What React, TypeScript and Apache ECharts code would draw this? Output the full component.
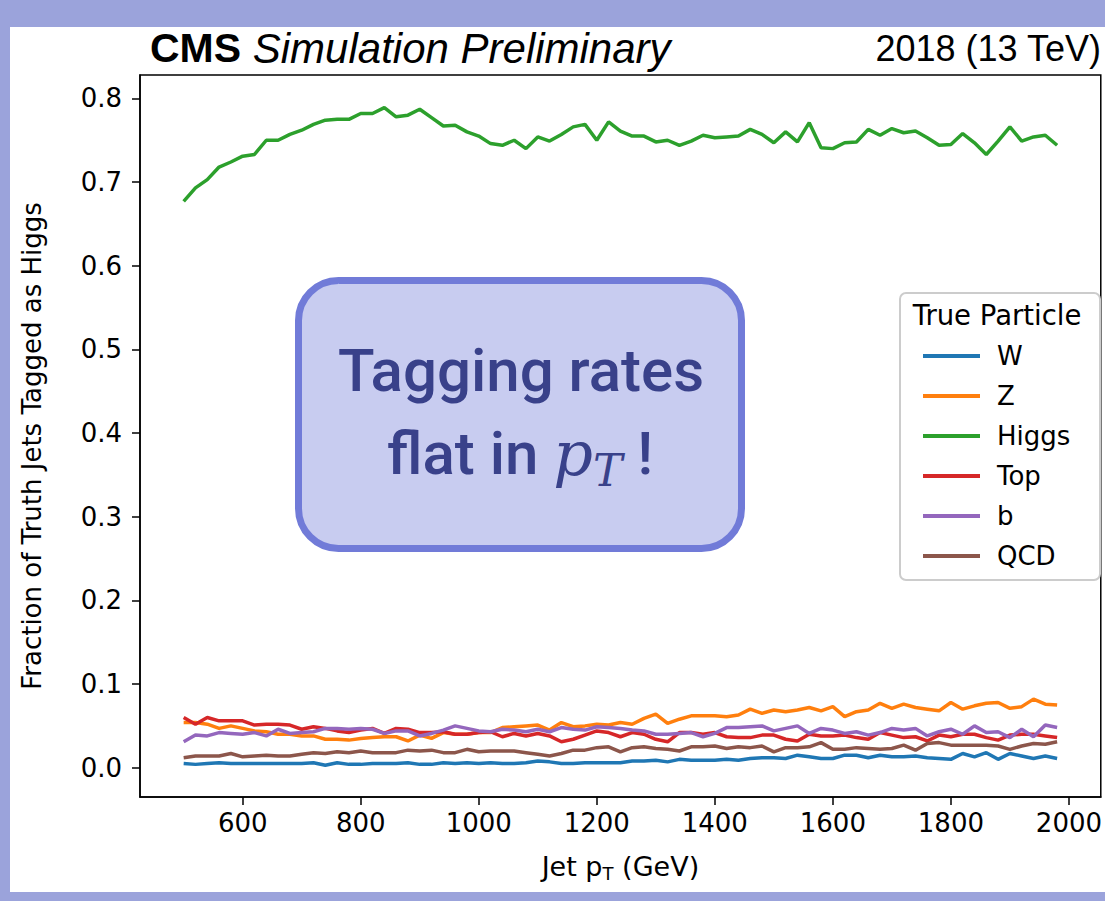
import React, { useEffect, useRef } from 'react';
import * as echarts from 'echarts';

const pt: number[] = [
  500, 520, 540, 560, 580, 600, 620, 640, 660, 680, 700, 720, 740, 760, 780,
  800, 820, 840, 860, 880, 900, 920, 940, 960, 980, 1000, 1020, 1040, 1060, 1080,
  1100, 1120, 1140, 1160, 1180, 1200, 1220, 1240, 1260, 1280, 1300, 1320, 1340, 1360, 1380,
  1400, 1420, 1440, 1460, 1480, 1500, 1520, 1540, 1560, 1580, 1600, 1620, 1640, 1660, 1680,
  1700, 1720, 1740, 1760, 1780, 1800, 1820, 1840, 1860, 1880, 1900, 1920, 1940, 1960, 1980,
];

const wRate: number[] = [
  0.005, 0.004, 0.005, 0.006, 0.005, 0.005, 0.005, 0.005, 0.005, 0.005, 0.005, 0.006, 0.003, 0.006, 0.004,
  0.004, 0.005, 0.005, 0.005, 0.006, 0.004, 0.004, 0.006, 0.005, 0.006, 0.005, 0.006, 0.005, 0.005, 0.006,
  0.008, 0.007, 0.005, 0.005, 0.006, 0.006, 0.006, 0.006, 0.008, 0.008, 0.009, 0.007, 0.010, 0.009, 0.009,
  0.009, 0.010, 0.009, 0.011, 0.012, 0.012, 0.011, 0.015, 0.013, 0.011, 0.011, 0.015, 0.015, 0.012, 0.015,
  0.013, 0.013, 0.014, 0.012, 0.011, 0.010, 0.017, 0.013, 0.018, 0.010, 0.017, 0.014, 0.011, 0.014, 0.011,
];

const zRate: number[] = [
  0.054, 0.054, 0.052, 0.047, 0.050, 0.047, 0.044, 0.043, 0.040, 0.040, 0.038, 0.038, 0.034, 0.034, 0.033,
  0.035, 0.036, 0.037, 0.037, 0.032, 0.039, 0.035, 0.042, 0.040, 0.040, 0.042, 0.042, 0.048, 0.049, 0.050,
  0.051, 0.045, 0.054, 0.049, 0.050, 0.052, 0.051, 0.054, 0.052, 0.059, 0.064, 0.053, 0.058, 0.062, 0.062,
  0.062, 0.061, 0.063, 0.070, 0.065, 0.069, 0.067, 0.069, 0.072, 0.068, 0.073, 0.061, 0.067, 0.069, 0.077,
  0.071, 0.076, 0.072, 0.070, 0.068, 0.078, 0.070, 0.074, 0.077, 0.078, 0.071, 0.073, 0.082, 0.076, 0.075,
];

const higgsRate: number[] = [
  0.677, 0.693, 0.703, 0.718, 0.724, 0.731, 0.733, 0.750, 0.750, 0.757, 0.762, 0.769, 0.774, 0.775, 0.775,
  0.782, 0.782, 0.789, 0.778, 0.780, 0.787, 0.777, 0.767, 0.768, 0.760, 0.755, 0.746, 0.744, 0.750, 0.740,
  0.754, 0.749, 0.757, 0.766, 0.769, 0.750, 0.772, 0.761, 0.755, 0.755, 0.748, 0.750, 0.744, 0.749, 0.756,
  0.753, 0.754, 0.755, 0.763, 0.757, 0.747, 0.760, 0.748, 0.771, 0.741, 0.740, 0.747, 0.748, 0.763, 0.756,
  0.764, 0.759, 0.761, 0.753, 0.744, 0.745, 0.758, 0.747, 0.733, 0.749, 0.766, 0.749, 0.754, 0.756, 0.744,
];

const topRate: number[] = [
  0.060, 0.052, 0.060, 0.056, 0.056, 0.056, 0.051, 0.052, 0.052, 0.051, 0.046, 0.049, 0.047, 0.044, 0.042,
  0.045, 0.047, 0.041, 0.047, 0.046, 0.042, 0.042, 0.043, 0.040, 0.040, 0.042, 0.043, 0.037, 0.041, 0.038,
  0.041, 0.038, 0.031, 0.034, 0.039, 0.044, 0.042, 0.037, 0.042, 0.040, 0.034, 0.031, 0.042, 0.042, 0.040,
  0.042, 0.037, 0.036, 0.036, 0.039, 0.039, 0.034, 0.032, 0.040, 0.038, 0.038, 0.039, 0.036, 0.034, 0.042,
  0.039, 0.036, 0.037, 0.032, 0.039, 0.037, 0.040, 0.040, 0.036, 0.033, 0.039, 0.040, 0.040, 0.038, 0.036,
];

const bRate: number[] = [
  0.031, 0.039, 0.038, 0.042, 0.041, 0.040, 0.042, 0.038, 0.046, 0.041, 0.042, 0.043, 0.047, 0.047, 0.046,
  0.047, 0.046, 0.041, 0.044, 0.044, 0.038, 0.041, 0.045, 0.050, 0.047, 0.044, 0.043, 0.046, 0.045, 0.043,
  0.046, 0.043, 0.048, 0.046, 0.045, 0.049, 0.048, 0.047, 0.045, 0.044, 0.040, 0.040, 0.041, 0.042, 0.037,
  0.041, 0.048, 0.048, 0.049, 0.050, 0.044, 0.047, 0.050, 0.041, 0.047, 0.045, 0.041, 0.043, 0.039, 0.042,
  0.047, 0.045, 0.047, 0.038, 0.043, 0.046, 0.040, 0.050, 0.042, 0.043, 0.036, 0.046, 0.037, 0.051, 0.048,
];

const qcdRate: number[] = [
  0.012, 0.014, 0.014, 0.014, 0.017, 0.013, 0.014, 0.015, 0.014, 0.014, 0.016, 0.018, 0.017, 0.019, 0.018,
  0.020, 0.018, 0.018, 0.018, 0.021, 0.020, 0.021, 0.018, 0.018, 0.022, 0.019, 0.020, 0.020, 0.020, 0.018,
  0.016, 0.014, 0.017, 0.021, 0.021, 0.024, 0.025, 0.019, 0.024, 0.025, 0.023, 0.022, 0.020, 0.025, 0.025,
  0.026, 0.023, 0.025, 0.024, 0.026, 0.019, 0.024, 0.024, 0.025, 0.030, 0.022, 0.022, 0.024, 0.023, 0.022,
  0.023, 0.027, 0.021, 0.029, 0.030, 0.027, 0.027, 0.027, 0.027, 0.026, 0.022, 0.026, 0.029, 0.028, 0.031,
];

const seriesNames: string[] = ['W', 'Z', 'Higgs', 'Top', 'b', 'QCD'];
const seriesColors: string[] = ['#1f77b4', '#ff7f0e', '#2ca02c', '#d62728', '#9467bd', '#8c564b'];
const seriesValues: number[][] = [wRate, zRate, higgsRate, topRate, bRate, qcdRate];

const xTicks: number[] = [600, 800, 1000, 1200, 1400, 1600, 1800, 2000];
const yTicks: number[] = [0.0, 0.1, 0.2, 0.3, 0.4, 0.5, 0.6, 0.7, 0.8];

const TICK_FONT = 'DejaVu Sans';
const FS = 26;

export default function App() {
  const ref = useRef<HTMLDivElement | null>(null);

  useEffect(() => {
    if (!ref.current) return;
    const chart = echarts.init(ref.current, undefined, { renderer: 'svg' });

    const series = seriesNames.map((name, k) => ({
      name,
      type: 'line',
      data: pt.map((x, i) => [x, seriesValues[k][i]]),
      showSymbol: false,
      symbol: 'none',
      lineStyle: { color: seriesColors[k], width: 3.5 },
      itemStyle: { color: seriesColors[k] },
      z: 3 + k,
    }));

    chart.setOption({
      animation: false,
      backgroundColor: '#9ba3db',
      grid: {
        left: 140,
        top: 75,
        width: 967,
        height: 722,
        show: true,
        borderColor: '#000',
        borderWidth: 1.5,
        backgroundColor: 'transparent',
      },
      xAxis: {
        type: 'value',
        min: 426,
        max: 2054,
        axisLine: { show: true, onZero: false, lineStyle: { color: '#000', width: 1.5 } },
        axisTick: { show: true, length: 8, lineStyle: { color: '#000', width: 1.5 }, customValues: xTicks },
        axisLabel: {
          customValues: xTicks,
          fontFamily: TICK_FONT,
          fontSize: FS,
          color: '#000',
          margin: 13,
          formatter: (v: number) => String(v),
        },
        splitLine: { show: false },
        name: '{a|Jet p}{s|T}{a| (GeV)}',
        nameLocation: 'middle',
        nameGap: 53,
        nameTextStyle: {
          rich: {
            a: { fontFamily: TICK_FONT, fontSize: 27, color: '#000' },
            s: { fontFamily: TICK_FONT, fontSize: 18, color: '#000', padding: [14, 0, 0, 0] },
          },
        },
      },
      yAxis: {
        type: 'value',
        min: -0.035,
        max: 0.828,
        axisLine: { show: true, onZero: false, lineStyle: { color: '#000', width: 1.5 } },
        axisTick: { show: true, length: 8, lineStyle: { color: '#000', width: 1.5 }, customValues: yTicks },
        axisLabel: {
          customValues: yTicks,
          fontFamily: TICK_FONT,
          fontSize: FS,
          color: '#000',
          margin: 18,
          formatter: (v: number) => v.toFixed(1),
        },
        splitLine: { show: false },
        name: 'Fraction of Truth Jets Tagged as Higgs',
        nameLocation: 'middle',
        nameRotate: 90,
        nameGap: 95,
        nameTextStyle: { fontFamily: TICK_FONT, fontSize: FS, color: '#000', padding: [0, 20, 0, 0] },
      },
      legend: {
        data: seriesNames,
        orient: 'vertical',
        left: 918,
        top: 338,
        z: 120,
        icon: 'rect',
        itemWidth: 57,
        itemHeight: 4,
        itemGap: 14,
        textStyle: {
          fontFamily: TICK_FONT,
          fontSize: FS,
          color: '#000',
          lineHeight: 26,
          padding: [0, 0, 0, 12],
        },
      },
      graphic: [
        {
          type: 'rect',
          z: -100,
          shape: { x: 10, y: 27, width: 1100, height: 865 },
          style: { fill: '#ffffff' },
          silent: true,
        },
        {
          type: 'text',
          x: 150,
          y: 48,
          style: {
            text: '{b|CMS}{i| Simulation Preliminary}',
            verticalAlign: 'middle',
            align: 'left',
            rich: {
              b: { fontFamily: 'Liberation Sans', fontWeight: 'bold', fontSize: 41, fill: '#000' },
              i: { fontFamily: 'Liberation Sans', fontStyle: 'italic', fontSize: 42, fill: '#000' },
            },
          },
        },
        {
          type: 'text',
          x: 1101,
          y: 48,
          style: {
            text: '2018 (13 TeV)',
            align: 'right',
            verticalAlign: 'middle',
            fontFamily: 'Liberation Sans',
            fontSize: 36,
            fill: '#000',
          },
        },
        {
          type: 'rect',
          z: 50,
          shape: { x: 900, y: 293, width: 200, height: 287, r: 6 },
          style: { fill: '#ffffff', stroke: '#cccccc', lineWidth: 2 },
        },
        {
          type: 'text',
          z: 51,
          x: 997,
          y: 315,
          style: {
            text: 'True Particle',
            align: 'center',
            verticalAlign: 'middle',
            fontFamily: TICK_FONT,
            fontSize: 27.5,
            fill: '#000',
          },
        },
        {
          type: 'rect',
          z: 60,
          shape: { x: 298.5, y: 280.5, width: 443, height: 268, r: 40 },
          style: { fill: '#c8ccf0', stroke: '#717bd8', lineWidth: 7 },
        },
        {
          type: 'text',
          z: 61,
          x: 521,
          y: 370,
          style: {
            text: 'Tagging rates',
            align: 'center',
            verticalAlign: 'middle',
            fontFamily: 'Roboto',
            fontWeight: 500,
            fontSize: 60,
            fill: '#39418a',
          },
        },
        {
          type: 'text',
          z: 61,
          x: 520,
          y: 453,
          style: {
            text: '{a|flat in }{p|p}{s|T}{a| !}',
            align: 'center',
            verticalAlign: 'middle',
            rich: {
              a: { fontFamily: 'Roboto', fontWeight: 500, fontSize: 60, fill: '#39418a' },
              p: { fontFamily: 'DejaVu Serif', fontStyle: 'italic', fontSize: 62, fill: '#39418a' },
              s: { fontFamily: 'DejaVu Serif', fontStyle: 'italic', fontSize: 44, fill: '#39418a', padding: [34, 0, 0, 0] },
            },
          },
        },
      ],
      series,
    });

    return () => {
      chart.dispose();
    };
  }, []);

  return (
    <div
      ref={ref}
      style={{ position: 'fixed', left: 0, top: 0, width: 1105, height: 901 }}
    />
  );
}
